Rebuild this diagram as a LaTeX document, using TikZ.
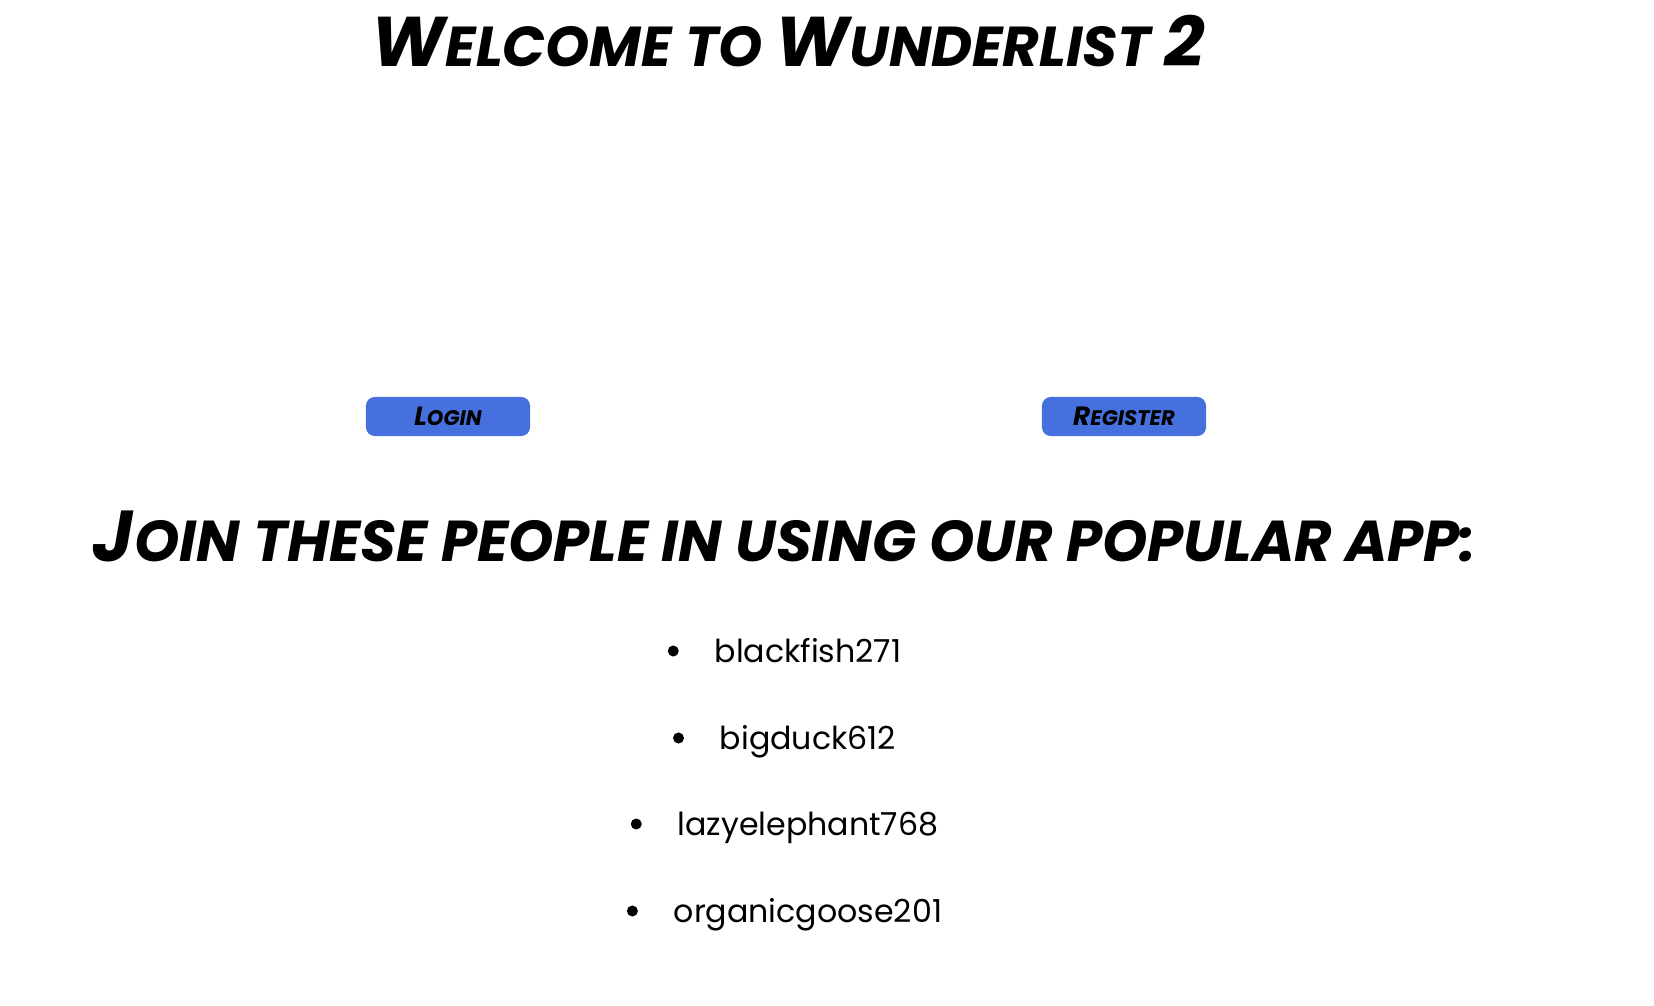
\documentclass[tikz,border=0pt]{standalone}
\usepackage{fontspec}
\setmainfont{Poppins}
\newfontfamily\brushfont{Poppins}
\usetikzlibrary{positioning}
\definecolor{btnblue}{RGB}{70,112,222}
\newcommand\initcap[1]{\scalebox{1.25}{#1}}

\begin{document}
\begin{tikzpicture}[x=0.01cm,y=-0.01cm,
    heading/.style={font=\brushfont\bfseries\itshape\fontsize{16}{18}\selectfont,inner sep=0pt},
    button/.style={fill=btnblue,rounded corners=2.5pt,minimum width=1.64cm,minimum height=0.39cm,
      inner sep=0pt,font=\brushfont\bfseries\itshape\fontsize{6}{7}\selectfont},
    user/.style={font=\fontsize{9}{11}\selectfont,inner sep=0pt,text height=0.22cm,text depth=0pt},
    dot/.style={circle,fill=black,inner sep=0pt,minimum size=0.11cm}]
    \useasboundingbox (0,0) rectangle (1654,1006);

    \node[heading,anchor=base] (welcome) at (788,66)
      {\MakeUppercase{\initcap{W}elcome to \initcap{W}underlist \initcap{2}}};

    \node[button] (login) at (448,416.5) {\MakeUppercase{\initcap{L}ogin}};
    \node[button] (register) at (1124,416.5) {\MakeUppercase{\initcap{R}egister}};

    \node[heading,anchor=base,font=\brushfont\bfseries\itshape\fontsize{16.4}{18}\selectfont] (join) at (784.5,561)
      {\MakeUppercase{\initcap{J}oin these people in using our popular app:}};

    % users, each with its bullet
    \node[user,anchor=base] (blackfish) at (808,662) {blackfish271};
    \node[user,anchor=base] (bigduck) at (808,749) {bigduck612};
    \node[user,anchor=base] (lazyelephant) at (808,835) {lazyelephant768};
    \node[user,anchor=base] (organicgoose) at (808,922) {organicgoose201};

    \node[dot,left=0.345cm of blackfish] (dot1) {};
    \node[dot,left=0.345cm of bigduck] (dot2) {};
    \node[dot,left=0.345cm of lazyelephant] (dot3) {};
    \node[dot,left=0.345cm of organicgoose] (dot4) {};
  \end{tikzpicture}
\end{document}
